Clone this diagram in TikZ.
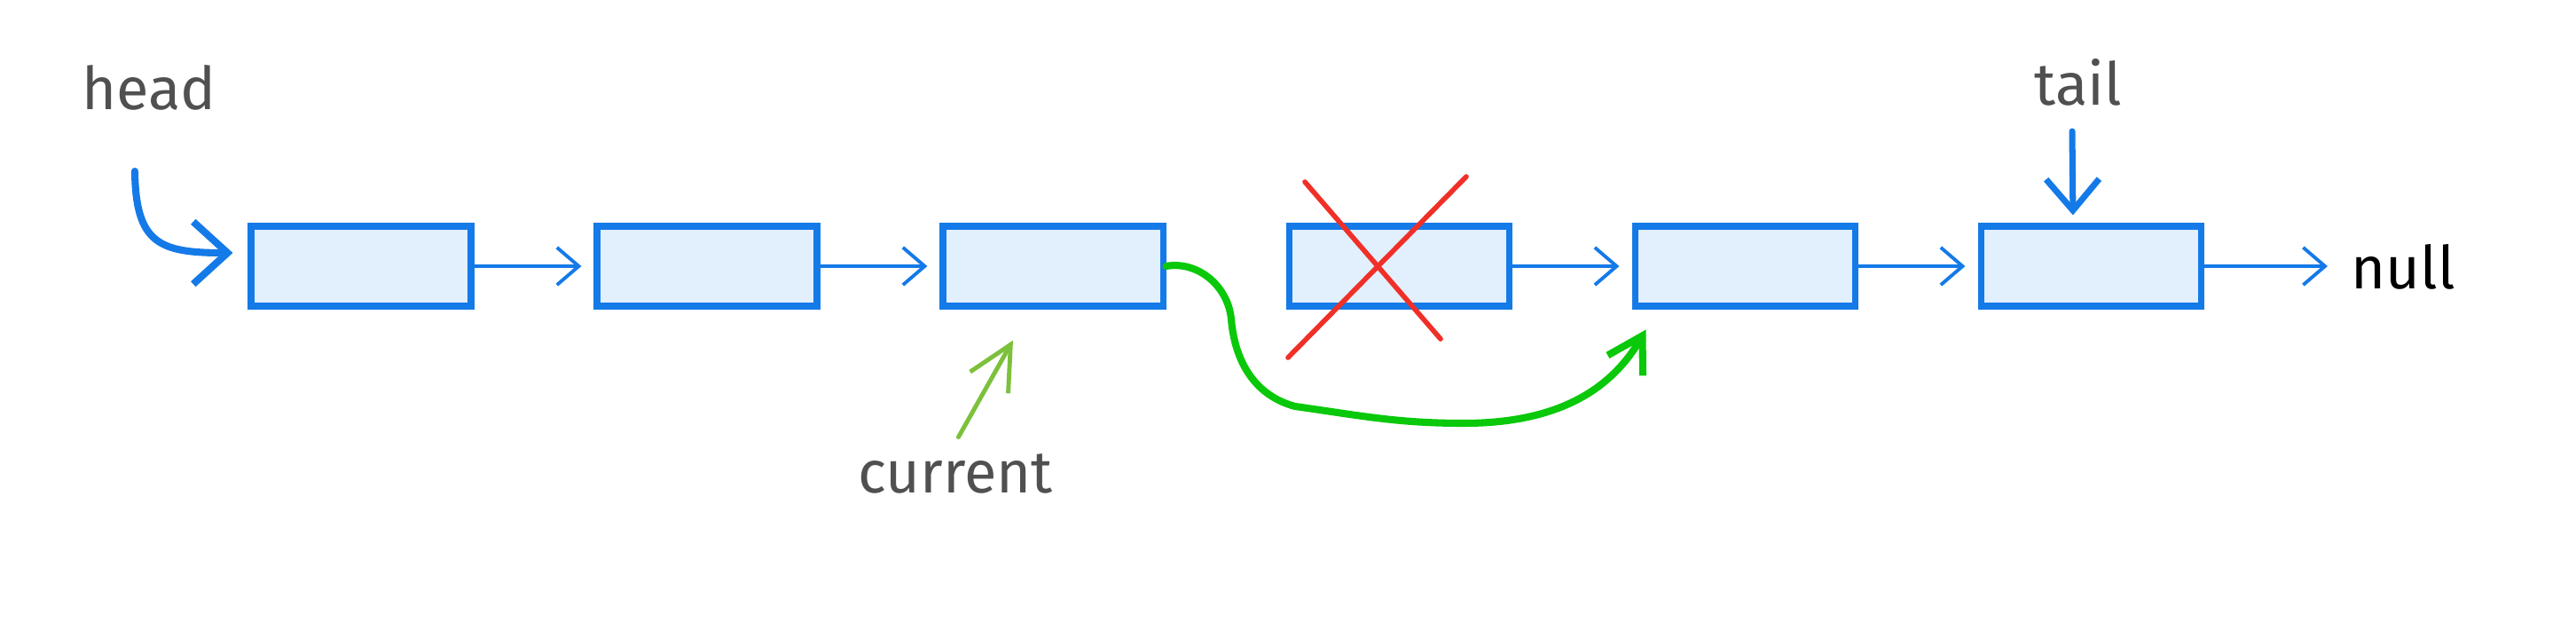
\documentclass[tikz,border=0pt]{standalone}
\usepackage{fontspec}
\setmainfont{Fira Sans}
\usetikzlibrary{arrows.meta}
\definecolor{knotblau}{RGB}{20,122,232}
\definecolor{knotfill}{RGB}{226,239,252}
\definecolor{textgrau}{RGB}{80,80,80}
\definecolor{kreuzrot}{RGB}{240,48,40}
\definecolor{neugruen}{RGB}{10,200,10}
\definecolor{hellgruen}{RGB}{125,192,60}
\tikzset{
  knoten/.style={draw=knotblau, fill=knotfill, line width=2pt,
    minimum width=2.48cm, minimum height=0.9cm, inner sep=0pt},
  zeiger/.style={draw=knotblau, line width=1.1pt,
    -{Straight Barb[length=7pt,width=12pt]}, shorten >=4pt},
  marke/.style={font=\fontsize{19}{23}\selectfont, text=textgrau, anchor=base},
}
\begin{document}
\begin{tikzpicture}
  \useasboundingbox (0,0) rectangle (29.04,7);
  % Knoten der Liste
  \node[knoten] (box1) at (4.07,4) {};
  \node[knoten] (box2) at (7.97,4) {};
  \node[knoten] (box3) at (11.87,4) {};
  \node[knoten] (box4) at (15.77,4) {};
  \node[knoten] (box5) at (19.67,4) {};
  \node[knoten] (box6) at (23.57,4) {};
  % Beschriftungen
  \node[marke] (head) at (1.68,5.77) {head};
  \node[marke] (tail) at (23.43,5.82) {tail};
  \node[marke] (current) at (10.77,1.45) {current};
  \node[marke, text=black] (null) at (27.09,3.75) {null};
  % Zeiger
  \draw[zeiger] (box1) -- (box2);
  \draw[zeiger] (box2) -- (box3);
  \draw[zeiger] (box4) -- (box5);
  \draw[zeiger] (box5) -- (box6);
  \draw[zeiger] (box6.east) -- (box6.east -| null.west);
  % head und tail
  \coordinate (kopfstart) at (1.52,5.07);
  \coordinate (schwanzstart) at (23.36,5.52);
  \draw[knotblau, line width=2.3pt, line cap=round,
    -{Straight Barb[length=11pt,width=20pt]}, shorten >=0.17cm]
    (kopfstart) .. controls (1.53,4.25) and (1.8,4.15) .. ([yshift=0.15cm]box1.west);
  \draw[knotblau, line width=2pt, line cap=round,
    -{Straight Barb[length=10pt,width=17pt]}, shorten >=0.09cm]
    (schwanzstart) -- ([xshift=-0.2cm]box6.north);
  % current
  \draw[hellgruen, line width=1.4pt, line cap=round,
    -{Straight Barb[length=14pt,width=14pt]}, shorten <=2pt]
    (current.north) -- ([shift={(-0.45,-0.35)}]box3.south);
  % Umgehung
  \draw[neugruen, line width=2.3pt, line cap=round,
    -{Straight Barb[length=11pt,width=13pt]}]
    (box3.east) to[out=10,in=95] (13.88,3.4) to[out=-85,in=165] (14.6,2.42)
    to[out=-8,in=180] (16.5,2.23)
    to[out=0,in=-120] ([shift={(0.16,-0.23)}]box5.south west);
  % Kreuz
  \draw[kreuzrot, line width=1.6pt, line cap=round]
    ([shift={(-1.06,0.95)}]box4.center) -- ([shift={(0.47,-0.82)}]box4.center);
  \draw[kreuzrot, line width=1.6pt, line cap=round]
    ([shift={(0.76,1.01)}]box4.center) -- ([shift={(-1.25,-1.03)}]box4.center);
\end{tikzpicture}
\end{document}
